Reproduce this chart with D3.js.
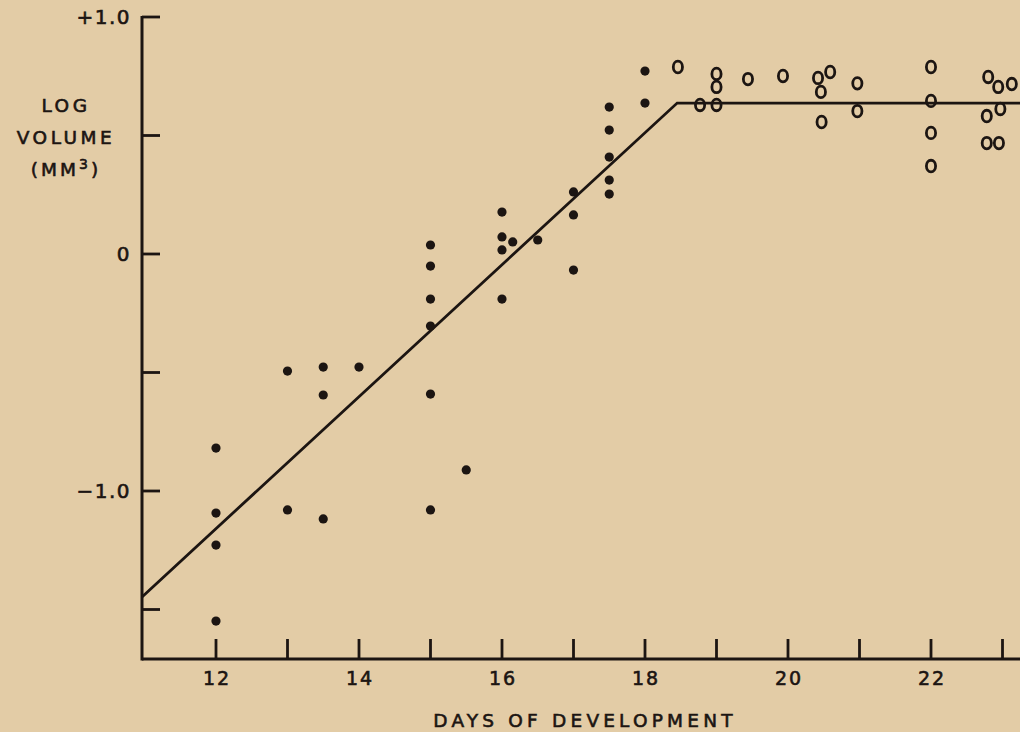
<!doctype html>
<html>
<head>
<script src="https://cdnjs.cloudflare.com/ajax/libs/d3/7.8.5/d3.min.js"></script>
<style>
  body { margin:0; background:#e3cca6; }
  svg { display:block; font-family:"DejaVu Sans", sans-serif; }
  text { stroke:#1c1512; stroke-width:0.6px; }
</style>
</head>
<body>
<svg width="1020" height="732"></svg>
<script>
// filled dots: embryonic days
var dotDays = [12,12,12,12, 13,13, 13.5,13.5,13.5, 14,
  15,15,15,15,15,15, 15.5, 16,16,16,16,16.15, 16.5,
  17,17,17, 17.5,17.5,17.5,17.5,17.5, 18,18];
var dotVals = [-0.819,-1.093,-1.228,-1.549, -0.494,-1.08, -0.477,-0.595,-1.118, -0.477,
  0.038,-0.051,-0.19,-0.304,-0.591,-1.08, -0.911, 0.177,0.072,0.017,-0.19,0.051, 0.059,
  0.262,0.165,-0.068, 0.62,0.523,0.409,0.312,0.253, 0.772,0.637];

// open circles: later days
var ringDays = [18.46, 18.77, 19.0,19.0,19.0, 19.44, 19.93,
  20.42,20.59,20.46,20.47, 20.97,20.97, 22,22,22,22,
  22.8,22.94,23.13,22.97,22.78,22.78,22.95];
var ringVals = [0.789, 0.629, 0.629,0.76,0.705, 0.738, 0.751,
  0.743,0.768,0.684,0.557, 0.72,0.603, 0.789,0.646,0.511,0.371,
  0.747,0.705,0.717,0.612,0.582,0.468,0.468];

// fitted line (growth then plateau)
var fitDays = [10.965, 18.45, 23.3];
var fitVals = [-1.447, 0.637, 0.637];

var xTicks = [12,13,14,15,16,17,18,19,20,21,22,23];
var xLabels = [12,14,16,18,20,22];
var yTicks = [1,0.5,0,-0.5,-1,-1.5];
var yLabels = {"1":"+1.0", "0":"0", "-1":"\u22121.0"};

var svg = d3.select("svg");
var x = d3.scaleLinear().domain([12,18]).range([216,645]);
var y = d3.scaleLinear().domain([-1,1]).range([491,17]);
var x0 = 142, yBot = 659;
var ink = "#1c1512";

// axes
svg.append("line").attr("x1",x0).attr("x2",x0).attr("y1",y(1)-1).attr("y2",yBot+1.5)
  .attr("stroke",ink).attr("stroke-width",3);
svg.append("line").attr("x1",x0).attr("x2",1020).attr("y1",yBot).attr("y2",yBot)
  .attr("stroke",ink).attr("stroke-width",3);

svg.selectAll(".yt").data(yTicks).enter().append("line")
  .attr("x1",x0).attr("x2",x0+18).attr("y1",d=>y(d)).attr("y2",d=>y(d))
  .attr("stroke",ink).attr("stroke-width",2.8);
svg.selectAll(".xt").data(xTicks).enter().append("line")
  .attr("x1",d=>x(d)).attr("x2",d=>x(d)).attr("y1",yBot).attr("y2",yBot-20)
  .attr("stroke",ink).attr("stroke-width",2.8);

svg.selectAll(".yl").data(Object.keys(yLabels)).enter().append("text")
  .attr("x",131).attr("y",d=>y(+d)+7).attr("text-anchor","end")
  .attr("font-size",20).attr("fill",ink).attr("letter-spacing",1.5)
  .text(d=>yLabels[d]);
svg.selectAll(".xl").data(xLabels).enter().append("text")
  .attr("x",d=>x(d)+1).attr("y",685).attr("text-anchor","middle")
  .attr("font-size",19).attr("fill",ink).attr("letter-spacing",2)
  .text(d=>d);

svg.append("text").attr("x",585).attr("y",727).attr("text-anchor","middle")
  .attr("font-size",18.5).attr("fill",ink).attr("letter-spacing",4.2)
  .text("DAYS  OF  DEVELOPMENT");

["LOG","VOLUME"].forEach((t,i) => {
  svg.append("text").attr("x",66).attr("y",112+i*32).attr("text-anchor","middle")
    .attr("font-size",18.5).attr("fill",ink).attr("letter-spacing",3.5).text(t);
});
var mm = svg.append("text").attr("x",66).attr("y",176).attr("text-anchor","middle")
  .attr("font-size",18.5).attr("fill",ink).attr("letter-spacing",3);
mm.append("tspan").text("(MM");
mm.append("tspan").attr("dy",-7).attr("font-size",14).text("3");
mm.append("tspan").attr("dy",7).text(")");

// fit line
svg.append("path").datum(d3.range(fitDays.length))
  .attr("d", d3.line().x(i=>x(fitDays[i])).y(i=>y(fitVals[i])))
  .attr("fill","none").attr("stroke",ink).attr("stroke-width",2.8);

// points
svg.selectAll(".dot").data(d3.range(dotDays.length)).enter().append("circle")
  .attr("cx",i=>x(dotDays[i])).attr("cy",i=>y(dotVals[i])).attr("r",4.6)
  .attr("fill",ink);
svg.selectAll(".ring").data(d3.range(ringDays.length)).enter().append("ellipse")
  .attr("cx",i=>x(ringDays[i])).attr("cy",i=>y(ringVals[i])).attr("rx",4.6).attr("ry",5.8)
  .attr("fill","none").attr("stroke",ink).attr("stroke-width",2.8);
</script>
</body>
</html>
